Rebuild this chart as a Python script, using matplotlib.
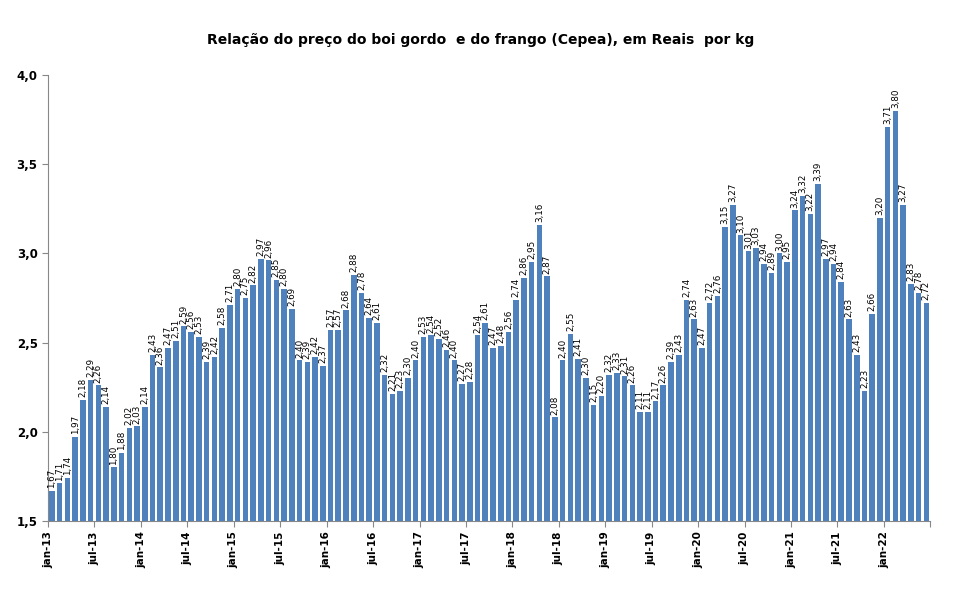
import matplotlib
matplotlib.use('Agg')
import matplotlib.pyplot as plt

# monthly ratio, jan-13 .. jun-22
values = [
    1.67, 1.71, 1.74, 1.97, 2.18, 2.29, 2.26, 2.14, 1.80, 1.88, 2.02, 2.03,
    2.14, 2.43, 2.36, 2.47, 2.51, 2.59, 2.56, 2.53, 2.39, 2.42, 2.58, 2.71,
    2.80, 2.75, 2.82, 2.97, 2.96, 2.85, 2.80, 2.69, 2.40, 2.39, 2.42, 2.37,
    2.57, 2.57, 2.68, 2.88, 2.78, 2.64, 2.61, 2.32, 2.21, 2.23, 2.30, 2.40,
    2.53, 2.54, 2.52, 2.46, 2.40, 2.27, 2.28, 2.54, 2.61, 2.47, 2.48, 2.56,
    2.74, 2.86, 2.95, 3.16, 2.87, 2.08, 2.40, 2.55, 2.41, 2.30, 2.15, 2.20,
    2.32, 2.33, 2.31, 2.26, 2.11, 2.11, 2.17, 2.26, 2.39, 2.43, 2.74, 2.63,
    2.47, 2.72, 2.76, 3.15, 3.27, 3.10, 3.01, 3.03, 2.94, 2.89, 3.00, 2.95,
    3.24, 3.32, 3.22, 3.39, 2.97, 2.94, 2.84, 2.63, 2.43, 2.23, 2.66, 3.20,
    3.71, 3.80, 3.27, 2.83, 2.78, 2.72,
]
tick_labels = ['jan-13', 'jul-13', 'jan-14', 'jul-14', 'jan-15', 'jul-15',
               'jan-16', 'jul-16', 'jan-17', 'jul-17', 'jan-18', 'jul-18',
               'jan-19', 'jul-19', 'jan-20', 'jul-20', 'jan-21', 'jul-21',
               'jan-22', '']
y_ticks = [1.5, 2.0, 2.5, 3.0, 3.5, 4.0]

fig = plt.figure(figsize=(9.61, 5.94), dpi=100)
ax = fig.add_axes([0.05, 0.123, 0.918, 0.751])

x = list(range(len(values)))
ax.bar(x, values, width=0.72, color='#4F81BD')

for xi, v in zip(x, values):
    ax.annotate(('%.2f' % v).replace('.', ','), (xi, v), xytext=(0, 2),
                textcoords='offset points', rotation=90, ha='center',
                va='bottom', fontsize=6.3, color='black')

ax.set_ylim(1.5, 4.0)
ax.set_xlim(-0.5, len(values) - 0.5)
ax.set_yticks(y_ticks)
ax.set_yticklabels([('%.1f' % t).replace('.', ',') for t in y_ticks],
                   fontsize=8.5, fontweight='bold')
ax.set_xticks([-0.5 + 6 * k for k in range(len(tick_labels))])
ax.set_xticklabels(tick_labels, rotation=90, fontsize=7.5, fontweight='bold')

for s in ['top', 'right']:
    ax.spines[s].set_visible(False)
for s in ['left', 'bottom']:
    ax.spines[s].set_color('#888888')
ax.tick_params(axis='both', direction='out', length=4, color='#888888')

fig.suptitle('Relação do preço do boi gordo  e do frango (Cepea), em Reais  por kg',
             x=0.5, y=0.945, fontsize=10, fontweight='bold')

fig.savefig('out.png', dpi=100)
